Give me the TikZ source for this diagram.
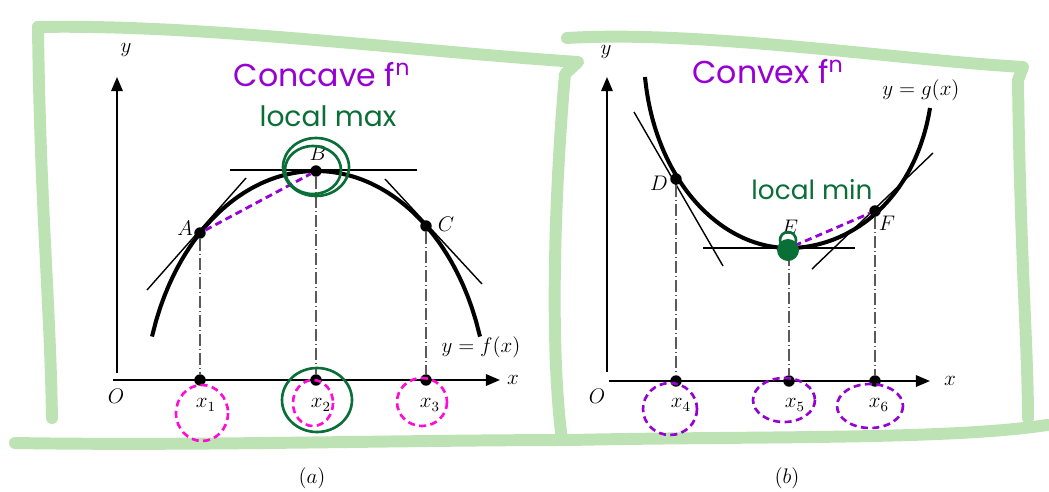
\documentclass[tikz,border=0pt]{standalone}
\usepackage{fontspec}
\newfontfamily\handfont{Poppins}
\usetikzlibrary{arrows.meta,calc}
\definecolor{framegreen}{RGB}{189,227,181}
\definecolor{inkgreen}{RGB}{10,110,55}
\definecolor{inkpurple}{RGB}{150,0,210}
\definecolor{inkpink}{RGB}{255,10,215}
\definecolor{dropgray}{RGB}{90,90,90}
\tikzset{
  frame/.style={line width=6.8pt,framegreen,line cap=round,line join=round},
  axis/.style={line width=1.1pt,-{Triangle[length=8pt,width=6.5pt]}},
  curve/.style={line width=2.3pt},
  tangent/.style={line width=0.8pt},
  drop/.style={dropgray,line width=0.6pt,dash pattern=on 7pt off 1.5pt on 0.8pt off 1.5pt},
  dot/.style={circle,fill,inner sep=0pt,minimum size=6.5pt},
  lbl/.style={font=\fontsize{12}{14}\selectfont,inner sep=1pt},
  hand/.style={font=\handfont\fontsize{18}{22}\selectfont,inner sep=0pt},
  chord/.style={inkpurple,line width=1.6pt,dash pattern=on 4pt off 2.5pt},
  loop/.style={line width=1.5pt,dash pattern=on 4pt off 2.5pt},
  ring/.style={inkgreen,line width=1.5pt}
}

\begin{document}
\begin{tikzpicture}[x=0.02cm,y=-0.02cm]
\useasboundingbox (0,0) rectangle (1049,491);
% green frames
\draw[frame] (38,27) .. controls (200,24) and (400,50) .. (578,62) -- (565,74) .. controls (554,200) and (550,350) .. (562,440);
\draw[frame] (38,27) .. controls (40,200) and (50,300) .. (52,418);
\draw[frame] (15,443) .. controls (200,446) and (400,440) .. (575,440);
\draw[frame] (567,38) .. controls (700,30) and (900,60) .. (1023,67) -- (1018,80) .. controls (1020,250) and (1028,350) .. (1028,418);
\draw[frame] (570,440) .. controls (750,436) and (950,440) .. (1047,425);

% (a) concave
\coordinate (xa0) at (113,380);
\coordinate (xa1) at (500,380);
\coordinate (ya0) at (117,373);
\coordinate (ya1) at (117,77);
\draw[axis] (xa0) -- (xa1);
\draw[axis] (ya0) -- (ya1);
\node[lbl] (ylab1) at (126,50) {$y$};
\node[lbl] (xlab1) at (513,380) {$x$};
\node[lbl] (o1) at (116,396) {$O$};
\draw[curve] plot[domain=152:480,samples=80] (\x,{408-237*sqrt(1-((\x-316)/172)^2)});
\node[dot] (A) at (200,233) {};
\node[dot] (B) at (316,171) {};
\node[dot] (C) at (426,226) {};
\node[lbl] (Alab) at (185,228) {$A$};
\node[lbl] (Blab) at (318,153) {$B$};
\node[lbl] (Clab) at (446,224) {$C$};
\draw[tangent] ($(A)+(-53,57)$) -- ($(A)+(46,-55)$);
\draw[tangent] ($(B)+(-86,-1)$) -- ($(B)+(101,-1)$);
\draw[tangent] ($(C)+(-41,-47)$) -- ($(C)+(56,58)$);
\node[dot] (x1) at (200,380) {};
\node[dot] (x2) at (316,380) {};
\node[dot] (x3) at (426,380) {};
\draw[drop] (A) -- (x1);
\draw[drop] (B) -- (x2);
\draw[drop] (C) -- (x3);
\node[lbl] (x1lab) at (206,405) {$x_1$};
\node[lbl] (x2lab) at (321,405) {$x_2$};
\node[lbl] (x3lab) at (430,405) {$x_3$};
\node[lbl] (flab) at (481,347) {$y=f(x)$};
\node[lbl] (capa) at (312,478) {$(a)$};

% (b) convex
\coordinate (xb0) at (609,381);
\coordinate (xb1) at (930,381);
\coordinate (yb0) at (607,372);
\coordinate (yb1) at (607,77);
\draw[axis] (xb0) -- (xb1);
\draw[axis] (yb0) -- (yb1);
\node[lbl] (ylab2) at (606,52) {$y$};
\node[lbl] (xlab2) at (950,381) {$x$};
\node[lbl] (o2) at (597,396) {$O$};
\draw[curve] (645,77) .. controls (655,180) and (720,248) .. (789,248) .. controls (850,248) and (915,200) .. (930,108);
\node[dot] (D) at (676,179) {};
\node[dot] (E) at (789,248) {};
\node[dot] (F) at (875,211) {};
\node[lbl] (Dlab) at (659,183) {$D$};
\node[lbl] (Elab) at (790,227) {$E$};
\node[lbl] (Flab) at (887,223) {$F$};
\draw[tangent] ($(D)+(-42,-67)$) -- ($(D)+(47,87)$);
\draw[tangent] ($(E)+(-86,0)$) -- ($(E)+(66,0)$);
\draw[tangent] ($(F)+(-63,58)$) -- ($(F)+(58,-58)$);
\node[dot] (x4) at (676,381) {};
\node[dot] (x5) at (789,381) {};
\node[dot] (x6) at (875,381) {};
\draw[drop] (D) -- (x4);
\draw[drop] (E) -- (x5);
\draw[drop] (F) -- (x6);
\node[lbl] (x4lab) at (681,405) {$x_4$};
\node[lbl] (x5lab) at (795,405) {$x_5$};
\node[lbl] (x6lab) at (879,405) {$x_6$};
\node[lbl] (glab) at (921,90) {$y=g(x)$};
\node[lbl] (capb) at (787,478) {$(b)$};

% handwritten notes
\node[hand,inkpurple] (concave) at (322,75) {Concave f\textsuperscript{n}};
\node[hand,inkgreen,font=\handfont\fontsize{16}{20}\selectfont] (lmax) at (328,116) {local max};
\node[hand,inkpurple] (convex) at (768,72) {Convex f\textsuperscript{n}};
\node[hand,inkgreen,font=\handfont\fontsize{15}{18}\selectfont] (lmin) at (812,190) {local min};
\draw[chord] (A) -- (B);
\draw[chord] (E) -- (F);
\draw[ring] (316,167) ellipse [x radius=33,y radius=29];
\draw[ring] (313,170) ellipse [x radius=28,y radius=24];
\draw[ring] (317,400) ellipse [x radius=35,y radius=32];
\fill[inkgreen] (788,250) circle [radius=11];
\draw[ring] (788,240) circle [radius=8];
\draw[loop,inkpink] (202,413) ellipse [x radius=26,y radius=28];
\draw[loop,inkpink] (313,403) ellipse [x radius=20,y radius=23];
\draw[loop,inkpink] (422,402) ellipse [x radius=25,y radius=24];
\draw[loop,inkpurple] (670,409) ellipse [x radius=27,y radius=26];
\draw[loop,inkpurple] (784,400) ellipse [x radius=31,y radius=22];
\draw[loop,inkpurple] (870,406) ellipse [x radius=33,y radius=22];
\end{tikzpicture}
\end{document}
